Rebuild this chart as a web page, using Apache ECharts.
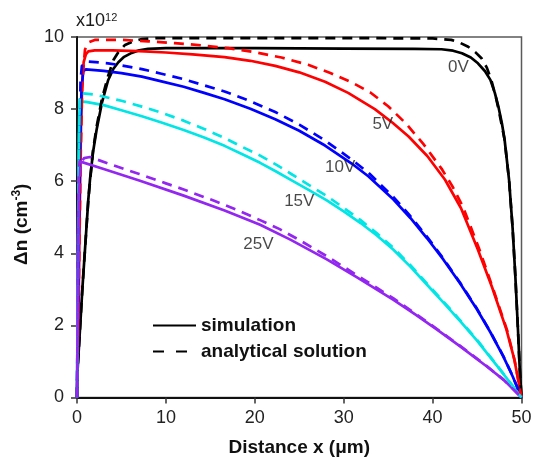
<!DOCTYPE html>
<html><head><meta charset="utf-8">
<script src="https://cdn.jsdelivr.net/npm/echarts@6/dist/echarts.min.js"></script>
<style>html,body{margin:0;padding:0;background:#fff}#c{width:535px;height:464px}</style>
</head><body><div id="c"></div>
<script>
const FONT = '"Liberation Sans", Arial, sans-serif';
const voltages = ['0V', '5V', '10V', '15V', '25V'];
const lineColors = ['#000000', '#ff0000', '#0000ff', '#00e5e5', '#9326f0'];
const labelX = [42.9, 34.4, 29.6, 25.0, 20.4];
const labelY = [9.15, 7.57, 6.39, 5.43, 4.26];

const sim0V = [[0,0],[0.05,0.7],[0.6,3.0],[1.27,5.48],[1.46,6.04],[1.8,6.8],[2.2,7.42],[2.8,8.17],[3.5,8.8],[4.1,9.12],[4.65,9.3],[5.3,9.45],[6.15,9.56],[7,9.63],[8,9.67],[10,9.69],[20,9.69],[30,9.68],[38,9.67],[41,9.66],[42.3,9.62],[43.3,9.55],[44.3,9.43],[45.1,9.27],[45.9,9.05],[46.5,8.81],[47,8.45],[47.4,8.07],[47.8,7.6],[48.1,7.15],[48.6,6.04],[49.0,4.7],[49.3,3.4],[49.6,1.9],[49.8,0.8],[50,0]];
const ana0V = [[0,0],[0.05,0.7],[0.6,3.0],[1.27,5.48],[1.8,6.85],[2.2,7.5],[2.8,8.28],[3.5,8.92],[4.1,9.36],[4.7,9.6],[5.4,9.78],[6.3,9.88],[7.3,9.94],[9,9.97],[20,9.97],[30,9.97],[40,9.96],[42.1,9.92],[43,9.85],[44,9.73],[44.8,9.58],[45.5,9.41],[46.1,9.15],[46.6,8.81],[47.1,8.35],[47.5,7.9],[48.1,7.15],[48.6,6.04],[49.0,4.7],[49.3,3.4],[49.6,1.9],[49.8,0.8],[50,0]];
const sim5V = [[0,0],[0.15,2],[0.3,5],[0.45,7.5],[0.6,8.8],[0.75,9.3],[1.0,9.52],[1.27,9.6],[2,9.63],[4,9.63],[7,9.61],[10,9.57],[13,9.52],[16.6,9.44],[19.5,9.34],[22.3,9.2],[25,9.02],[27.9,8.76],[30.5,8.45],[33.5,8.0],[35.5,7.62],[37.3,7.24],[39.4,6.7],[41.4,6.04],[43.2,5.25],[45.1,4.1],[46.7,3.05],[48.3,1.89],[49.2,1.05],[50,0]];
const ana5V = [[0,0],[0.2,3],[0.4,6.5],[0.6,8.8],[0.9,9.65],[1.3,9.85],[2,9.92],[5,9.92],[8,9.88],[11,9.83],[14,9.77],[17,9.69],[20,9.58],[23,9.43],[26,9.23],[28.5,9.0],[31,8.73],[33,8.46],[35,8.08],[37,7.6],[39,7.02],[41,6.35],[42.2,5.87],[43.4,5.3],[45.2,4.15],[46.8,3.02],[48.4,1.85],[49.25,1.0],[50,0]];
const sim10V = [[0,0],[0.1,2],[0.2,4.5],[0.35,7],[0.5,8.5],[0.7,9.05],[1,9.1],[3,9.06],[5,9.0],[7.3,8.9],[9.5,8.77],[12,8.62],[14.3,8.45],[16.6,8.275],[19.5,8.01],[22.3,7.72],[25,7.4],[27.9,6.99],[30.9,6.49],[32.8,6.13],[35.6,5.49],[37.5,4.98],[39.4,4.41],[41.2,3.83],[43.1,3.16],[45,2.44],[46.5,1.81],[47.95,1.14],[49,0.59],[50,0]];
const ana10V = [[0,0],[0.12,3],[0.25,6.5],[0.4,8.8],[0.55,9.2],[1.27,9.32],[3.5,9.27],[5,9.21],[7.3,9.11],[9.5,8.98],[12,8.83],[14.3,8.66],[16.6,8.49],[19.5,8.22],[22.3,7.92],[25,7.57],[27.9,7.13],[30.9,6.6],[32.8,6.23],[35.6,5.56],[37.5,5.03],[39.4,4.45],[41.2,3.86],[43.1,3.18],[45,2.46],[46.5,1.82],[47.95,1.15],[49,0.6],[50,0]];
const sim15V = [[0,0],[0.08,3],[0.16,6],[0.25,7.8],[0.34,8.21],[1,8.2],[3,8.11],[5,7.97],[7.3,7.8],[9.5,7.63],[12,7.42],[14.3,7.21],[16.6,6.98],[18.6,6.75],[20.6,6.51],[22.4,6.27],[24.1,6.03],[26.2,5.74],[28.1,5.47],[30,5.16],[31.9,4.84],[33.7,4.5],[35.6,4.1],[37.5,3.63],[39.4,3.12],[41.3,2.61],[43.1,2.12],[45,1.58],[47.5,0.8],[50,0]];
const ana15V = [[0,0],[0.1,3],[0.2,6.5],[0.3,8.3],[0.5,8.44],[2,8.4],[5,8.23],[7.3,8.07],[9.5,7.9],[12,7.68],[14.3,7.45],[16.6,7.2],[18.6,6.95],[20.6,6.71],[22.4,6.46],[24.1,6.2],[26.2,5.88],[28.1,5.59],[30,5.26],[31.9,4.92],[33.7,4.56],[35.6,4.15],[37.5,3.67],[39.4,3.15],[41.3,2.64],[43.1,2.14],[45,1.6],[47.5,0.81],[50,0]];
const sim25V = [[0,0],[0.06,2],[0.12,4.5],[0.18,6.2],[0.3,6.55],[3,6.34],[7,6.02],[12,5.6],[16.6,5.19],[20.6,4.79],[24,4.38],[28.1,3.83],[31.5,3.33],[35.6,2.71],[38,2.31],[40.5,1.88],[43.1,1.42],[46.1,0.86],[48,0.49],[50,0]];
const ana25V = [[0,0],[0.1,3],[0.2,5.5],[0.4,6.5],[0.8,6.64],[1.46,6.67],[4,6.45],[7,6.2],[10,5.94],[12,5.77],[15.5,5.45],[18,5.2],[20.6,4.92],[22.8,4.67],[25,4.37],[28.1,3.92],[31.5,3.39],[35.6,2.75],[38,2.34],[40.5,1.9],[43.1,1.43],[46.1,0.87],[48,0.49],[50,0]];

const simSets = [sim0V, sim5V, sim10V, sim15V, sim25V];
const anaSets = [ana0V, ana5V, ana10V, ana15V, ana25V];
const legendNames = ['simulation', 'analytical solution'];

const series = [];
simSets.forEach((d, i) => series.push({
  type: 'line', name: 'sim ' + voltages[i], data: d, symbol: 'none', smooth: false,
  lineStyle: { color: lineColors[i], width: 2.7, join: 'round' }, itemStyle: { color: lineColors[i] }, z: 3
}));
anaSets.forEach((d, i) => series.push({
  type: 'line', name: 'ana ' + voltages[i], data: d, symbol: 'none', smooth: false,
  lineStyle: { color: lineColors[i], width: 2.7, type: [10, 7], join: 'round' }, itemStyle: { color: lineColors[i] }, z: 4
}));
series.push({ type: 'line', name: legendNames[0], data: [], symbol: 'none', lineStyle: { color: '#000', width: 2.7 }, itemStyle: { color: 'rgba(0,0,0,0)' } });
series.push({ type: 'line', name: legendNames[1], data: [], symbol: 'none', lineStyle: { color: '#000', width: 2.7, type: [11, 12] }, itemStyle: { color: 'rgba(0,0,0,0)' } });
series.push({
  type: 'scatter', name: 'labels', symbolSize: 1, itemStyle: { color: 'rgba(0,0,0,0)' }, z: 6,
  data: voltages.map((v, i) => [labelX[i], labelY[i], v]),
  label: { show: true, position: 'inside', formatter: p => p.data[2], fontFamily: FONT, fontSize: 17, color: '#1a1a1a' }
});

const chart = echarts.init(document.getElementById('c'), null, { renderer: 'canvas' });
chart.setOption({
  animation: false,
  backgroundColor: '#fff',
  title: {
    text: 'x10{s|12}', left: 76, top: 12, padding: 0,
    textStyle: { fontFamily: FONT, fontSize: 18, fontWeight: 'normal', color: '#1a1a1a',
      rich: { s: { fontFamily: FONT, fontSize: 11, color: '#1a1a1a', verticalAlign: 'top', lineHeight: 11 } } }
  },
  grid: { left: 77, right: 13.5, top: 37, bottom: 66.5, show: true, borderColor: '#5a5a5a', borderWidth: 1.5, backgroundColor: 'transparent' },
  legend: {
    data: legendNames, orient: 'vertical', left: 152, top: 316, padding: 0,
    itemWidth: 43, itemHeight: 19, itemGap: 7,
    itemStyle: { color: 'rgba(0,0,0,0)', borderWidth: 0 },
    textStyle: { fontFamily: FONT, fontSize: 19, fontWeight: 'bold', color: '#111' }
  },
  xAxis: {
    type: 'value', min: 0, max: 50, interval: 10,
    name: 'Distance x (\u03bcm)', nameLocation: 'middle', nameGap: 41,
    nameTextStyle: { fontFamily: FONT, fontSize: 19, fontWeight: 'bold', color: '#111' },
    axisLine: { lineStyle: { color: '#111', width: 2 } },
    axisTick: { length: 6, lineStyle: { color: '#333', width: 1.5 } },
    axisLabel: { margin: 12, fontFamily: FONT, fontSize: 18, color: '#222' },
    splitLine: { show: false }
  },
  yAxis: {
    type: 'value', min: 0, max: 10, interval: 2,
    name: '\u0394n (cm{sup|-3})', nameLocation: 'middle', nameGap: 44, nameRotate: 90,
    nameTextStyle: { fontFamily: FONT, fontSize: 19, fontWeight: 'bold', color: '#111', lineHeight: 22, padding: [0, 14, 0, 0],
      rich: { sup: { fontFamily: FONT, fontSize: 12, fontWeight: 'bold', color: '#111', verticalAlign: 'top', lineHeight: 12 } } },
    axisLine: { show: true, lineStyle: { color: '#111', width: 2 } },
    axisTick: { show: true, length: 6, lineStyle: { color: '#333', width: 1.5 } },
    axisLabel: { margin: 13, fontFamily: FONT, fontSize: 18, color: '#222' },
    splitLine: { show: false }
  },
  series: series
});
</script></body></html>
